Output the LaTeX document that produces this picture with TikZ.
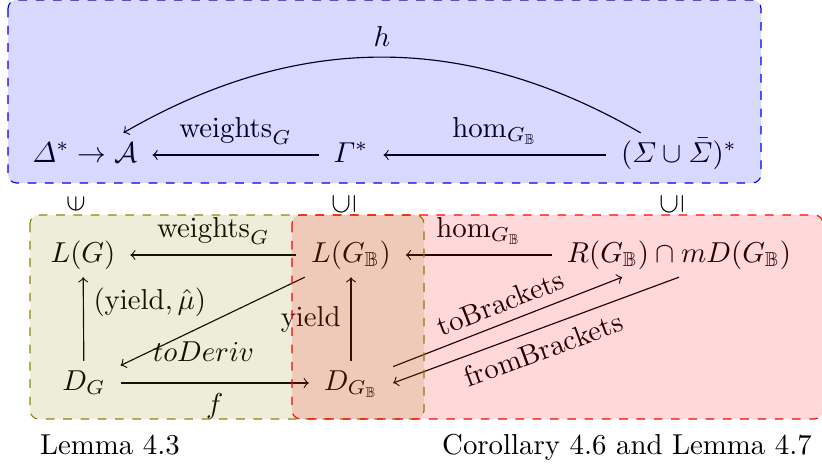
\documentclass[tikz,border=0pt]{standalone}
\usepackage{amsmath,amssymb}

\begin{document}
\begin{tikzpicture}[x=0.347pt, y=0.347pt,
  setnode/.style={inner xsep=5pt, inner ysep=2.5pt, text height=7.5pt, text depth=2.5pt},
  bluebox/.style={draw=blue, dashed, rounded corners=3pt, fill=blue, fill opacity=0.15},
  olivebox/.style={draw=olive, dashed, rounded corners=3pt, fill=olive, fill opacity=0.15},
  redbox/.style={draw=red, dashed, rounded corners=3pt, fill=red, fill opacity=0.15},
]
\useasboundingbox (0,0) rectangle (822,-466);

%%% top row
\node[setnode] (words) at (85,-155) {$\varDelta^*\to\mathcal{A}$};
\node[setnode] (gam) at (351,-155) {$\varGamma^*$};
\node[setnode] (sig) at (679,-155) {$(\varSigma\cup\bar{\varSigma})^*$};

%%% inclusions
\node[rotate=90] (inA) at (76,-204) {$\in$};
\node[rotate=90] (subA) at (344,-204) {$\subseteq$};
\node[rotate=90] (subB) at (672,-204) {$\subseteq$};

%%% lower rows
\node[setnode] (lg) at (83,-255) {$L(G)$};
\node[setnode] (lgb) at (351,-255) {$L(G_{\mathbb{B}})$};
\node[setnode] (rgb) at (679,-255) {$R(G_{\mathbb{B}})\cap mD(G_{\mathbb{B}})$};
\node[setnode] (dg) at (84,-383) {$D_G$};
\node[setnode] (dgb) at (351,-383) {$D_{G_{\mathbb{B}}}$};

%%% arrows
\draw[->] (gam) -- node[above] {$\mathrm{weights}_G$} (words);
\draw[->] (sig) -- node[above] {$\hom_{G_{\mathbb{B}}}$} (gam);
\draw[->] (sig) to[bend right=30] node[above] {$h$} (words);
\draw[->] (lgb) -- node[above] {$\mathrm{weights}_G$} (lg);
\draw[->] (rgb) -- node[above] {$\hom_{G_{\mathbb{B}}}$} (lgb);
\draw[->] (dg) -- node[pos=0.7, right] {$(\mathrm{yield},\hat{\mu})$} (lg);
\draw[->] (dgb) -- node[left] {$\mathrm{yield}$} (lgb);
\draw[->] (lgb) -- node[pos=0.55, below, yshift=-2pt] {$toDeriv$} (dg);
\draw[->] (dg) -- node[below] {$f$} (dgb);
\draw[->] (dgb) -- node[above, sloped] {toBrackets} (rgb);
\draw[->] (rgb.south) -- node[below, sloped] {fromBrackets} (dgb.east);

%%% boxes
\draw[bluebox] (8,0) rectangle (761,-183);
\draw[olivebox] (30,-215) rectangle (424,-419);
\draw[redbox] (292,-215) rectangle (823,-419);

\node[anchor=base] (lemA) at (110,-454) {Lemma 4.3};
\node[anchor=base] (lemB) at (627,-454) {Corollary 4.6 and Lemma 4.7};
\end{tikzpicture}
\end{document}
